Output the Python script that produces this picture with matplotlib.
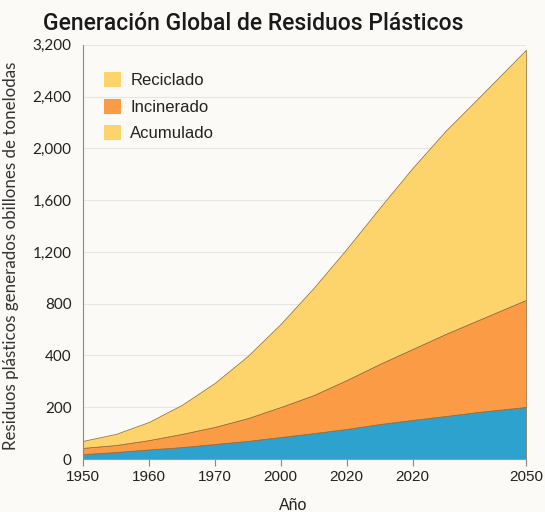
import numpy as np
import matplotlib.pyplot as plt
from matplotlib.patches import Patch

# tick labels as printed on the chart
x_labels = ['1950', '1960', '1970', '2000', '2020', '2020', '2050']
x_ticks = [0, 1, 2, 3, 4, 5, 6.72]
y_labels = ['0', '200', '400', '800', '1,200', '1,600', '2,000', '2,400', '3,200']
y_values = [0, 200, 400, 800, 1200, 1600, 2000, 2400, 3200]

# positions along the x axis (tick units) and the three stacked layers
x = [0, 0.5, 1, 1.5, 2, 2.5, 3, 3.5, 4, 4.5, 5, 5.5, 6, 6.72]
blue = [19, 27, 37, 46, 58, 70, 85, 100, 116, 135, 151, 166, 182, 201]
orange = [24, 27, 36, 51, 66, 88, 116, 147, 189, 232, 299, 400, 492, 628]
yellow = [27, 43, 70, 112, 170, 240, 443, 675, 918, 1173, 1399, 1569, 1716, 2294]

legend_names = ['Reciclado', 'Incinerado', 'Acumulado']

c_yellow = '#FDD46B'
c_orange = '#FB9B45'
c_blue = '#2DA2CE'
bg = '#FBFAF6'

ypos = np.arange(len(y_values))


def fwd(v):
    return np.interp(v, y_values, ypos)


def inv(p):
    return np.interp(p, ypos, y_values)


fig = plt.figure(figsize=(5.45, 5.12), dpi=100, facecolor=bg)
ax = fig.add_axes([0.152, 0.1035, 0.813, 0.809], facecolor=bg)
ax.set_yscale('function', functions=(fwd, inv))

ax.stackplot(x, blue, orange, yellow, colors=[c_blue, c_orange, c_yellow],
             edgecolor='#8a6a3a', linewidth=0.5, zorder=2)

ax.set_xlim(0, 6.72)
ax.set_ylim(0, 3200)
ax.set_xticks(x_ticks)
ax.set_xticklabels(x_labels, fontsize=11, family='Liberation Sans', color='#222222')
ax.set_yticks(y_values)
ax.set_yticklabels(y_labels, fontsize=11, family='Lato', color='#222222')
ax.yaxis.set_minor_locator(plt.NullLocator())
ax.tick_params(axis='y', length=0, pad=8)
ax.tick_params(axis='x', length=5, color='#888888', pad=3)
ax.grid(axis='y', color='#e6e6e4', linewidth=0.8, zorder=0)
ax.set_axisbelow(True)

for s in ['top', 'right']:
    ax.spines[s].set_visible(False)
ax.spines['left'].set_color('#888888')
ax.spines['bottom'].set_color('#999999')

ax.set_xlabel('Año', fontsize=11.5, family='Liberation Sans', color='#222222')
ax.xaxis.set_label_coords(0.474, -0.094)
ax.set_ylabel('Residuos plásticos generados obillones de tonelodas',
              fontsize=12.2, family='Lato', color='#333333')
ax.yaxis.set_label_coords(-0.144, 0.49)

fig.text(0.465, 0.955, 'Generación Global de Residuos Plásticos', ha='center', va='center',
         fontsize=16.5, family='Roboto', fontweight='medium', color='#1a1a1a')

handles = [Patch(facecolor=c, edgecolor='none') for c in [c_yellow, c_orange, c_yellow]]
leg = ax.legend(handles, legend_names, loc='upper left', bbox_to_anchor=(0.015, 0.97),
                frameon=False, fontsize=12, handlelength=1.0, handleheight=1.0,
                labelspacing=0.62, handletextpad=0.55)
for t in leg.get_texts():
    t.set_family('Liberation Sans')
    t.set_color('#222222')

fig.savefig('out.png', dpi=100, facecolor=bg)
